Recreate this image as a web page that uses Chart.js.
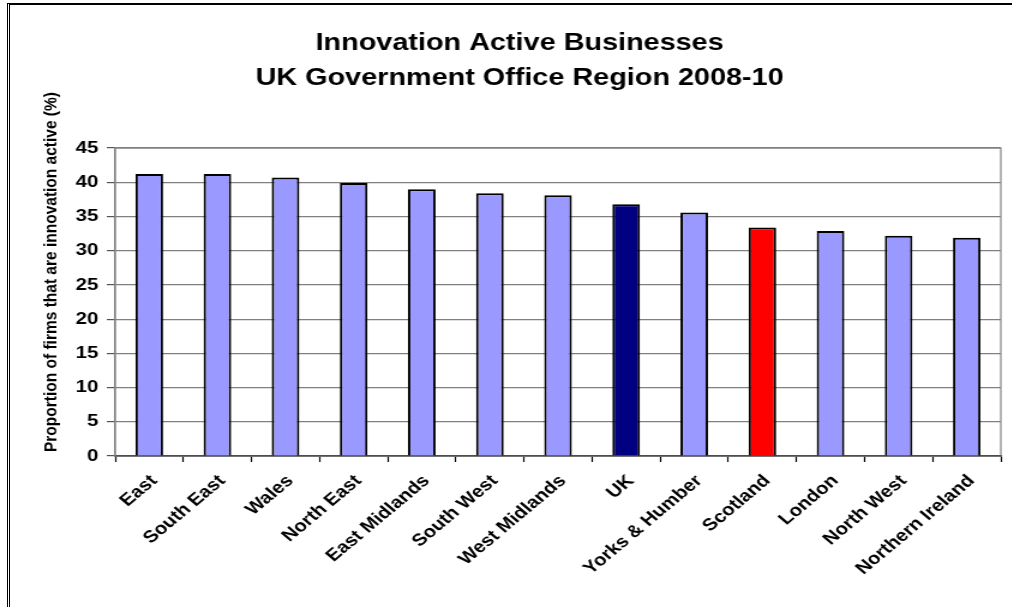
<!DOCTYPE html>
<html>
<head>
<meta charset="utf-8">
<title>Innovation Active Businesses</title>
<script src="https://cdn.jsdelivr.net/npm/chart.js@4.4.1/dist/chart.umd.min.js"></script>
<style>
    html, body { margin: 0; padding: 0; background: #fff; overflow: hidden; }
    body { width: 1012px; height: 607px; position: relative; }
    /* the original picture is a 45deg chart stretched sideways, so draw narrow and stretch */
    #chartBox { position: absolute; left: 0; top: 0; width: 843px; height: 607px; transform: scaleX(1.2); transform-origin: 0 0; }
    #frame { position: absolute; left: 7px; top: 3px; right: 0; bottom: 0; border-top: 2px solid #000; border-left: 3px double #000; pointer-events: none; }
</style>
</head>
<body>
<div id="chartBox"><canvas id="regionChart"></canvas></div>
<div id="frame"></div>
<script>
const regions = ['East', 'South East', 'Wales', 'North East', 'East Midlands', 'South West',
    'West Midlands', 'UK', 'Yorks & Humber', 'Scotland', 'London', 'North West', 'Northern Ireland'];
const innovationActive = [41.2, 41.2, 40.7, 39.9, 39.0, 38.4, 38.1, 36.8, 35.6, 33.4, 32.9, 32.2, 31.9];
const yMax = 45;
const yStep = 5;

const chartTitle = ['Innovation Active Businesses', 'UK Government Office Region 2008-10'];
const yAxisTitle = 'Proportion of firms that are innovation active (%)';

const fontFamily = "'Liberation Sans', Arial, Helvetica, sans-serif";
Chart.defaults.font.family = fontFamily;
Chart.defaults.color = '#000';

const barColours = regions.map(r => r === 'UK' ? '#000080' : (r === 'Scotland' ? '#FF0000' : '#9999FF'));

// grey outline round the plot area (top + right edges)
const plotBorder = {
    id: 'plotBorder',
    beforeDatasetsDraw(chart) {
        const { ctx, chartArea: a } = chart;
        ctx.save();
        ctx.strokeStyle = '#808080';
        ctx.lineWidth = 1.2;
        ctx.strokeRect(a.left, a.top, a.right - a.left, a.bottom - a.top);
        ctx.restore();
    }
};

// y title sits a bit above the middle of the axis in the original
const yTitle = {
    id: 'yTitle',
    afterDraw(chart) {
        const { ctx, chartArea: a } = chart;
        ctx.save();
        ctx.translate(a.left - 53.5, (a.top + a.bottom) / 2 - 30);
        ctx.rotate(-Math.PI / 2);
        ctx.font = 'bold 15.5px ' + fontFamily;
        ctx.fillStyle = '#000';
        ctx.textAlign = 'center';
        ctx.textBaseline = 'middle';
        ctx.fillText(yAxisTitle, 0, 0);
        ctx.restore();
    }
};

const ctx = document.getElementById('regionChart').getContext('2d');

new Chart(ctx, {
    type: 'bar',
    data: {
        labels: regions,
        datasets: [{
            label: 'Innovation active (%)',
            data: innovationActive,
            backgroundColor: barColours,
            borderColor: '#000',
            borderWidth: 2,
            categoryPercentage: 1,
            barPercentage: 0.405
        }]
    },
    options: {
        responsive: true,
        maintainAspectRatio: false,
        animation: false,
        layout: { padding: { left: 32, right: 9, top: 0, bottom: 0 } },
        plugins: {
            legend: { display: false },
            tooltip: { enabled: false },
            title: {
                display: true,
                text: chartTitle,
                color: '#000',
                font: { size: 24, weight: 'bold', lineHeight: 1.46 },
                padding: { top: 26, bottom: 52 }
            }
        },
        scales: {
            x: {
                grid: {
                    offset: true,
                    drawOnChartArea: false,
                    drawTicks: true,
                    tickLength: 6,
                    tickColor: '#000',
                    tickWidth: 1.2
                },
                border: { color: '#000', width: 1.5 },
                ticks: {
                    autoSkip: false,
                    maxRotation: 45,
                    minRotation: 45,
                    padding: 9,
                    labelOffset: 4,
                    color: '#000',
                    font: { size: 17, weight: 'bold' }
                },
                afterFit(scale) { scale.height = 151; }
            },
            y: {
                min: 0,
                max: yMax,
                ticks: {
                    stepSize: yStep,
                    padding: 7,
                    color: '#000',
                    font: { size: 17, weight: 'bold' }
                },
                grid: {
                    color: c => (c.tick && c.tick.value === 0) ? '#000' : '#808080',
                    lineWidth: 1.2,
                    tickLength: 7,
                    tickColor: '#555'
                },
                border: { color: '#808080', width: 1.2 },
                afterFit(scale) { scale.width = 64; }
            }
        }
    },
    plugins: [plotBorder, yTitle]
});
</script>
</body>
</html>
